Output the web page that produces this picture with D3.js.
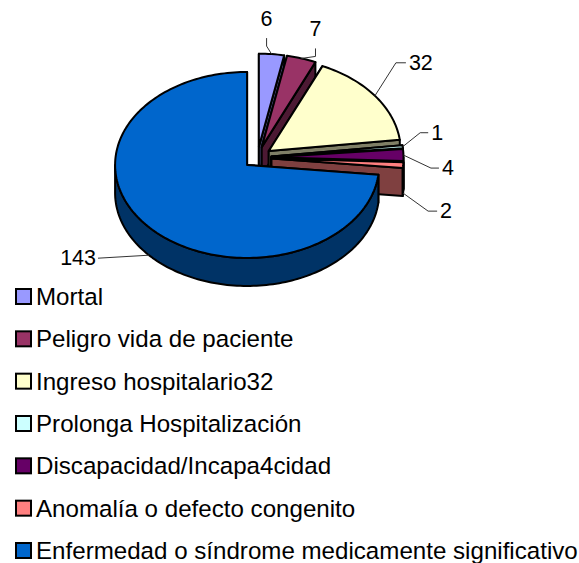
<!DOCTYPE html>
<html>
<head>
<meta charset="utf-8">
<script src="https://cdn.jsdelivr.net/npm/d3@7"></script>
<style>
  html, body { margin: 0; padding: 0; background: #fff; }
  text { font-family: "Liberation Sans", Arial, sans-serif; fill: #000; }
</style>
</head>
<body>
<svg id="chart" width="579" height="563"></svg>
<script>
const categories = ["Mortal", "Peligro vida de paciente", "Ingreso hospitalario32", "Prolonga Hospitalización",
    "Discapacidad/Incapa4cidad", "Anomalía o defecto congenito", "Enfermedad o síndrome medicamente significativo"];
const values = [6, 7, 32, 1, 4, 2, 143];
const topColors = ["#9999FF", "#993366", "#FFFFCC", "#CCFFFF", "#660066", "#FF8080", "#0066CC"];
const sideColors = ["#4C4C7F", "#4C1933", "#7F7F66", "#667F7F", "#330033", "#7F4040", "#003366"];

// label placement relative to the rim point of each slice: [elbow dx, dy, end dx, dy, onWall]
const leaders = [
    [-5, -8, -5, -16, 0],
    [14, -2, 14, -10, 0],
    [21, -33, 31, -33, 0],
    [17.5, -14, 25.5, -14, 0],
    [27.5, 13, 35.5, 13, 0],
    [25, 18, 34, 18, 1],
    [-51, 3, -51, 3, 1]
];

const width = 579, height = 563,
    center = {x: 257.5, y: 157.6},
    radiusX = 132, radiusY = 93, depth = 28,
    explodeX = 14, explodeY = 11;

const svg = d3.select("#chart");

// the pie is a tilted disc, so x and y get their own scale
const x = d3.scaleLinear().domain([-1, 1]).range([-radiusX, radiusX]);
const y = d3.scaleLinear().domain([-1, 1]).range([-radiusY, radiusY]);

const arcs = d3.pie().sort(null).value(d => d)(values);

function rimPoint(angle, apex, drop) {
    return [apex.x + x(Math.sin(angle)), apex.y + y(-Math.cos(angle)) + drop];
}

function apexOf(d) {
    const mid = (d.startAngle + d.endAngle) / 2;
    return {x: center.x + explodeX * Math.sin(mid), y: center.y - explodeY * Math.cos(mid)};
}

function arcPoints(a0, a1, apex, drop) {
    const steps = Math.max(2, Math.ceil((a1 - a0) * 40));
    return d3.range(steps + 1).map(i => rimPoint(a0 + (a1 - a0) * i / steps, apex, drop));
}

const line = d3.line();
const pieG = svg.append("g");
const stroke = (sel, fill) => sel.attr("fill", fill).attr("stroke", "#000")
    .attr("stroke-width", 2).attr("stroke-linejoin", "round");

// back to front, as the slices already run clockwise from the top
arcs.forEach((d, i) => {
    const apex = apexOf(d), a = [apex.x, apex.y];

    // cut faces
    [d.startAngle, d.endAngle].forEach(angle => {
        const p = rimPoint(angle, apex, 0);
        pieG.append("path")
            .attr("d", line([a, p, [p[0], p[1] + depth], [a[0], a[1] + depth]]) + "Z")
            .call(stroke, sideColors[i]);
    });

    // outer wall, only the front half of the disc shows
    const w0 = Math.max(d.startAngle, Math.PI / 2), w1 = Math.min(d.endAngle, Math.PI * 1.5);
    if (w1 > w0) {
        const upper = arcPoints(w0, w1, apex, 0);
        const lower = arcPoints(w0, w1, apex, depth).reverse();
        pieG.append("path").attr("d", line(upper.concat(lower)) + "Z").call(stroke, sideColors[i]);
    }

    // top face
    pieG.append("path")
        .attr("d", line([a].concat(arcPoints(d.startAngle, d.endAngle, apex, 0))) + "Z")
        .call(stroke, topColors[i]);
});

// value labels with leader lines
const labelG = svg.append("g");
arcs.forEach((d, i) => {
    const mid = (d.startAngle + d.endAngle) / 2, l = leaders[i];
    const p = rimPoint(mid, apexOf(d), l[4] ? depth : 0);
    labelG.append("path")
        .attr("d", line([p, [p[0] + l[0], p[1] + l[1]], [p[0] + l[2], p[1] + l[3]]]))
        .attr("fill", "none").attr("stroke", "#333").attr("stroke-width", 1);
    const horizontal = l[1] === l[3];
    labelG.append("text")
        .attr("x", p[0] + l[2] + (horizontal ? (l[2] > 0 ? 3 : -2) : 0))
        .attr("y", p[1] + l[3] + (horizontal ? 7 : -12))
        .attr("text-anchor", horizontal ? (l[2] > 0 ? "start" : "end") : "middle")
        .attr("font-size", 21.5)
        .text(values[i]);
});

// legend
const legendY = d3.scalePoint().domain(categories).range([297, 551]);
const legend = svg.append("g").selectAll("g").data(categories).enter().append("g")
    .attr("transform", d => "translate(0," + legendY(d) + ")");

legend.append("rect")
    .attr("x", 16).attr("y", -8).attr("width", 15).attr("height", 15)
    .attr("fill", (d, i) => topColors[i])
    .attr("stroke", "#000").attr("stroke-width", 2);

legend.append("text")
    .attr("x", 36).attr("y", 8)
    .attr("font-size", 24.13)
    .text(d => d);
</script>
</body>
</html>
